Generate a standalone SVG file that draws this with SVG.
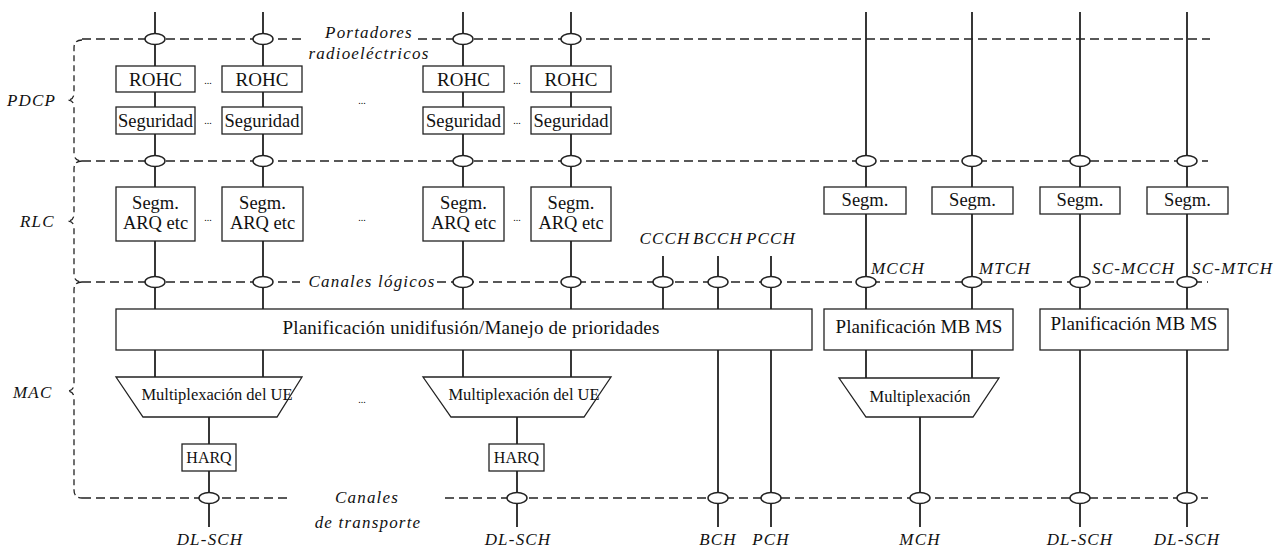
<svg xmlns="http://www.w3.org/2000/svg" width="1288" height="549" viewBox="0 0 1288 549">
<style>
.dash{fill:none;stroke:#222;stroke-width:1.5;stroke-dasharray:9 5}
.brace{fill:none;stroke:#222;stroke-width:1.3;stroke-dasharray:6 4}
.ln{fill:none;stroke:#222;stroke-width:1.8}
.ell{fill:#fff;stroke:#222;stroke-width:1.5}
.box{fill:#fff;stroke:#222;stroke-width:1.3}
text{font-family:'Liberation Serif','Times New Roman',Times,'DejaVu Serif',serif}
.t{fill:#111;text-anchor:middle}
.it{font-style:italic;fill:#111;font-size:17px;letter-spacing:1.2px}
.dots{font-size:10px;fill:#000;text-anchor:middle}
</style>
<defs>
<ellipse id="e" cx="0" cy="0" rx="10" ry="5.5" class="ell"/>
</defs>

<g id="connectors">
  <path class="brace" d="M82,40 Q74,40 74,48 L74,93 Q74,100 67,100 Q74,100 74,107 L74,153 Q74,161 82,161"/>
  <path class="brace" d="M82,161 Q74,161 74,169 L74,214 Q74,221 67,221 Q74,221 74,228 L74,274 Q74,282 82,282"/>
  <path class="brace" d="M82,282 Q74,282 74,290 L74,384 Q74,391 67,391 Q74,391 74,398 L74,490 Q74,498 82,498"/>
  <path class="dash" d="M82,39 H303 M418,39 H1210"/>
  <path class="dash" d="M82,161 H1208"/>
  <path class="dash" d="M82,282 H300 M437,282 H1208"/>
  <path class="dash" d="M82,498 H290 M445,498 H1208"/>
  <path class="ln" d="M155,12 V377 M263,12 V377 M463,12 V377 M571,12 V377"/>
  <path class="ln" d="M209,417 V527 M517,417 V527"/>
  <path class="ln" d="M663,256 V309 M718,256 V527 M771,256 V527"/>
  <path class="ln" d="M866,12 V378 M972,12 V378 M920,417 V527"/>
  <path class="ln" d="M1080,12 V527 M1187,12 V527"/>
  <use href="#e" x="155" y="39"/><use href="#e" x="263" y="39"/><use href="#e" x="463" y="39"/><use href="#e" x="571" y="39"/>
  <use href="#e" x="155" y="161"/><use href="#e" x="263" y="161"/><use href="#e" x="463" y="161"/><use href="#e" x="571" y="161"/>
  <use href="#e" x="866" y="161"/><use href="#e" x="972" y="161"/><use href="#e" x="1080" y="161"/><use href="#e" x="1187" y="161"/>
  <use href="#e" x="155" y="282"/><use href="#e" x="263" y="282"/><use href="#e" x="463" y="282"/><use href="#e" x="571" y="282"/>
  <use href="#e" x="663" y="282"/><use href="#e" x="718" y="282"/><use href="#e" x="771" y="282"/>
  <use href="#e" x="866" y="282"/><use href="#e" x="972" y="282"/><use href="#e" x="1080" y="282"/><use href="#e" x="1187" y="282"/>
  <use href="#e" x="209" y="498"/><use href="#e" x="517" y="498"/><use href="#e" x="718" y="498"/><use href="#e" x="771" y="498"/>
  <use href="#e" x="920" y="498"/><use href="#e" x="1080" y="498"/><use href="#e" x="1187" y="498"/>
</g>

<g id="labels">
  <text class="it" x="7" y="106">PDCP</text>
  <text class="it" x="20" y="227">RLC</text>
  <text class="it" x="13" y="398">MAC</text>
  <text class="it" x="369" y="38" text-anchor="middle">Portadores</text>
  <text class="it" x="369" y="59" text-anchor="middle">radioeléctricos</text>
  <text class="it" x="372" y="287" text-anchor="middle">Canales lógicos</text>
  <text class="it" x="367" y="503" text-anchor="middle">Canales</text>
  <text class="it" x="368" y="528" text-anchor="middle">de transporte</text>
  <text class="it" x="665" y="244" text-anchor="middle">CCCH</text>
  <text class="it" x="718" y="244" text-anchor="middle">BCCH</text>
  <text class="it" x="771" y="244" text-anchor="middle">PCCH</text>
  <text class="it" x="871" y="274">MCCH</text>
  <text class="it" x="979" y="274">MTCH</text>
  <text class="it" x="1092" y="274">SC-MCCH</text>
  <text class="it" x="1192" y="274">SC-MTCH</text>
  <text class="it" x="210" y="545" text-anchor="middle">DL-SCH</text>
  <text class="it" x="518" y="545" text-anchor="middle">DL-SCH</text>
  <text class="it" x="718" y="545" text-anchor="middle">BCH</text>
  <text class="it" x="771" y="545" text-anchor="middle">PCH</text>
  <text class="it" x="920" y="545" text-anchor="middle">MCH</text>
  <text class="it" x="1080" y="545" text-anchor="middle">DL-SCH</text>
  <text class="it" x="1187" y="545" text-anchor="middle">DL-SCH</text>
  <text class="dots" x="208" y="84">...</text>
  <text class="dots" x="208" y="124">...</text>
  <text class="dots" x="517" y="84">...</text>
  <text class="dots" x="517" y="124">...</text>
  <text class="dots" x="362" y="104">...</text>
  <text class="dots" x="208" y="221">...</text>
  <text class="dots" x="517" y="221">...</text>
  <text class="dots" x="362" y="221">...</text>
  <text class="dots" x="362" y="403">...</text>
</g>

<g id="rohc1"><rect class="box" x="116" y="66" width="79" height="26"/><text class="t" x="155.5" y="86" font-size="19">ROHC</text></g>
<g id="rohc2"><rect class="box" x="222" y="66" width="80" height="26"/><text class="t" x="262" y="86" font-size="19">ROHC</text></g>
<g id="rohc3"><rect class="box" x="423" y="66" width="81" height="26"/><text class="t" x="463.5" y="86" font-size="19">ROHC</text></g>
<g id="rohc4"><rect class="box" x="531" y="66" width="80" height="26"/><text class="t" x="571" y="86" font-size="19">ROHC</text></g>
<g id="seg1"><rect class="box" x="116" y="107" width="79" height="27"/><text class="t" x="155.5" y="127" font-size="18.5">Seguridad</text></g>
<g id="seg2"><rect class="box" x="222" y="107" width="80" height="27"/><text class="t" x="262" y="127" font-size="18.5">Seguridad</text></g>
<g id="seg3"><rect class="box" x="423" y="107" width="81" height="27"/><text class="t" x="463.5" y="127" font-size="18.5">Seguridad</text></g>
<g id="seg4"><rect class="box" x="531" y="107" width="80" height="27"/><text class="t" x="571" y="127" font-size="18.5">Seguridad</text></g>

<g id="arq1"><rect class="box" x="116" y="187" width="79" height="54"/><text class="t" x="155.5" y="209" font-size="18.5">Segm.</text><text class="t" x="155.5" y="229" font-size="18.5">ARQ etc</text></g>
<g id="arq2"><rect class="box" x="222" y="187" width="81" height="54"/><text class="t" x="262.5" y="209" font-size="18.5">Segm.</text><text class="t" x="262.5" y="229" font-size="18.5">ARQ etc</text></g>
<g id="arq3"><rect class="box" x="423" y="187" width="81" height="54"/><text class="t" x="463.5" y="209" font-size="18.5">Segm.</text><text class="t" x="463.5" y="229" font-size="18.5">ARQ etc</text></g>
<g id="arq4"><rect class="box" x="531" y="187" width="80" height="54"/><text class="t" x="571" y="209" font-size="18.5">Segm.</text><text class="t" x="571" y="229" font-size="18.5">ARQ etc</text></g>
<g id="segm1"><rect class="box" x="824" y="187" width="82" height="27"/><text class="t" x="865" y="206" font-size="18.5">Segm.</text></g>
<g id="segm2"><rect class="box" x="932" y="187" width="81" height="27"/><text class="t" x="972.5" y="206" font-size="18.5">Segm.</text></g>
<g id="segm3"><rect class="box" x="1040" y="187" width="80" height="27"/><text class="t" x="1080" y="206" font-size="18.5">Segm.</text></g>
<g id="segm4"><rect class="box" x="1147" y="187" width="81" height="27"/><text class="t" x="1187.5" y="206" font-size="18.5">Segm.</text></g>

<g id="sched"><rect class="box" x="116" y="309" width="696" height="41"/><text class="t" x="471" y="334" font-size="19" letter-spacing="0.2">Planificación unidifusión/Manejo de prioridades</text></g>
<g id="mbms1"><rect class="box" x="824" y="309" width="189" height="41"/><text class="t" x="919" y="333" font-size="19">Planificación MB MS</text></g>
<g id="mbms2"><rect class="box" x="1040" y="309" width="188" height="41"/><text class="t" x="1134" y="330" font-size="19">Planificación MB MS</text></g>
<g id="mux1"><path class="box" d="M116,377 H302 L277,417 H143 Z"/><text class="t" x="217" y="400" font-size="16.5">Multiplexación del UE</text></g>
<g id="mux2"><path class="box" d="M423,377 H611 L584,417 H451 Z"/><text class="t" x="524" y="400" font-size="16.5">Multiplexación del UE</text></g>
<g id="mux3"><path class="box" d="M839,378 H999 L973,417 H866 Z"/><text class="t" x="920" y="402" font-size="16.5">Multiplexación</text></g>
<g id="harq1"><rect class="box" x="182" y="444" width="54" height="27"/><text class="t" x="209" y="463" font-size="16">HARQ</text></g>
<g id="harq2"><rect class="box" x="489" y="444" width="55" height="27"/><text class="t" x="516.5" y="463" font-size="16">HARQ</text></g>
</svg>
